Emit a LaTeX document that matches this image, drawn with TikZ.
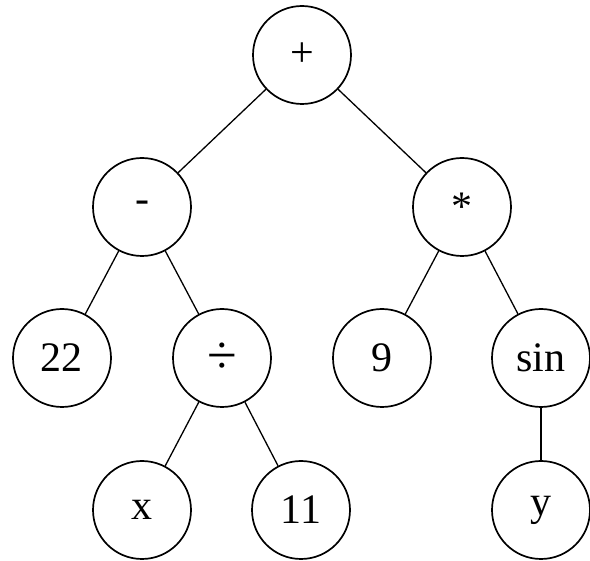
\documentclass[tikz,border=0pt]{standalone}
\usepackage{fontspec}
\setmainfont{Liberation Serif}
\begin{document}
\begin{tikzpicture}[x=1pt,y=-1pt,
  tnode/.style={draw, circle, line width=1.7pt, minimum size=98pt, inner sep=0pt,
    font=\fontsize{42}{42}\selectfont},
  tedge/.style={line width=1.3pt}]
\useasboundingbox (0,0) rectangle (590,561);
\node[tnode] (plus) at (302,55) {+};
\node[tnode] (minus) at (142,207) {-};
\node[tnode] (times) at (462,207) {*};
\node[tnode] (n22) at (62,358) {22};
\node[tnode] (div) at (222,358) {\fontsize{54}{54}\selectfont ÷};
\node[tnode] (n9) at (382,358) {9};
\node[tnode] (sin) at (541,358) {sin};
\node[tnode] (x) at (142,510) {x};
\node[tnode] (n11) at (301,510) {11};
\node[tnode] (y) at (541,510) {y};
\draw[tedge] (plus) -- (minus);
\draw[tedge] (plus) -- (times);
\draw[tedge] (minus) -- (n22);
\draw[tedge] (minus) -- (div);
\draw[tedge] (times) -- (n9);
\draw[tedge] (times) -- (sin);
\draw[tedge] (div) -- (x);
\draw[tedge] (div) -- (n11);
\draw[tedge] (sin) -- (y);
\end{tikzpicture}
\end{document}
